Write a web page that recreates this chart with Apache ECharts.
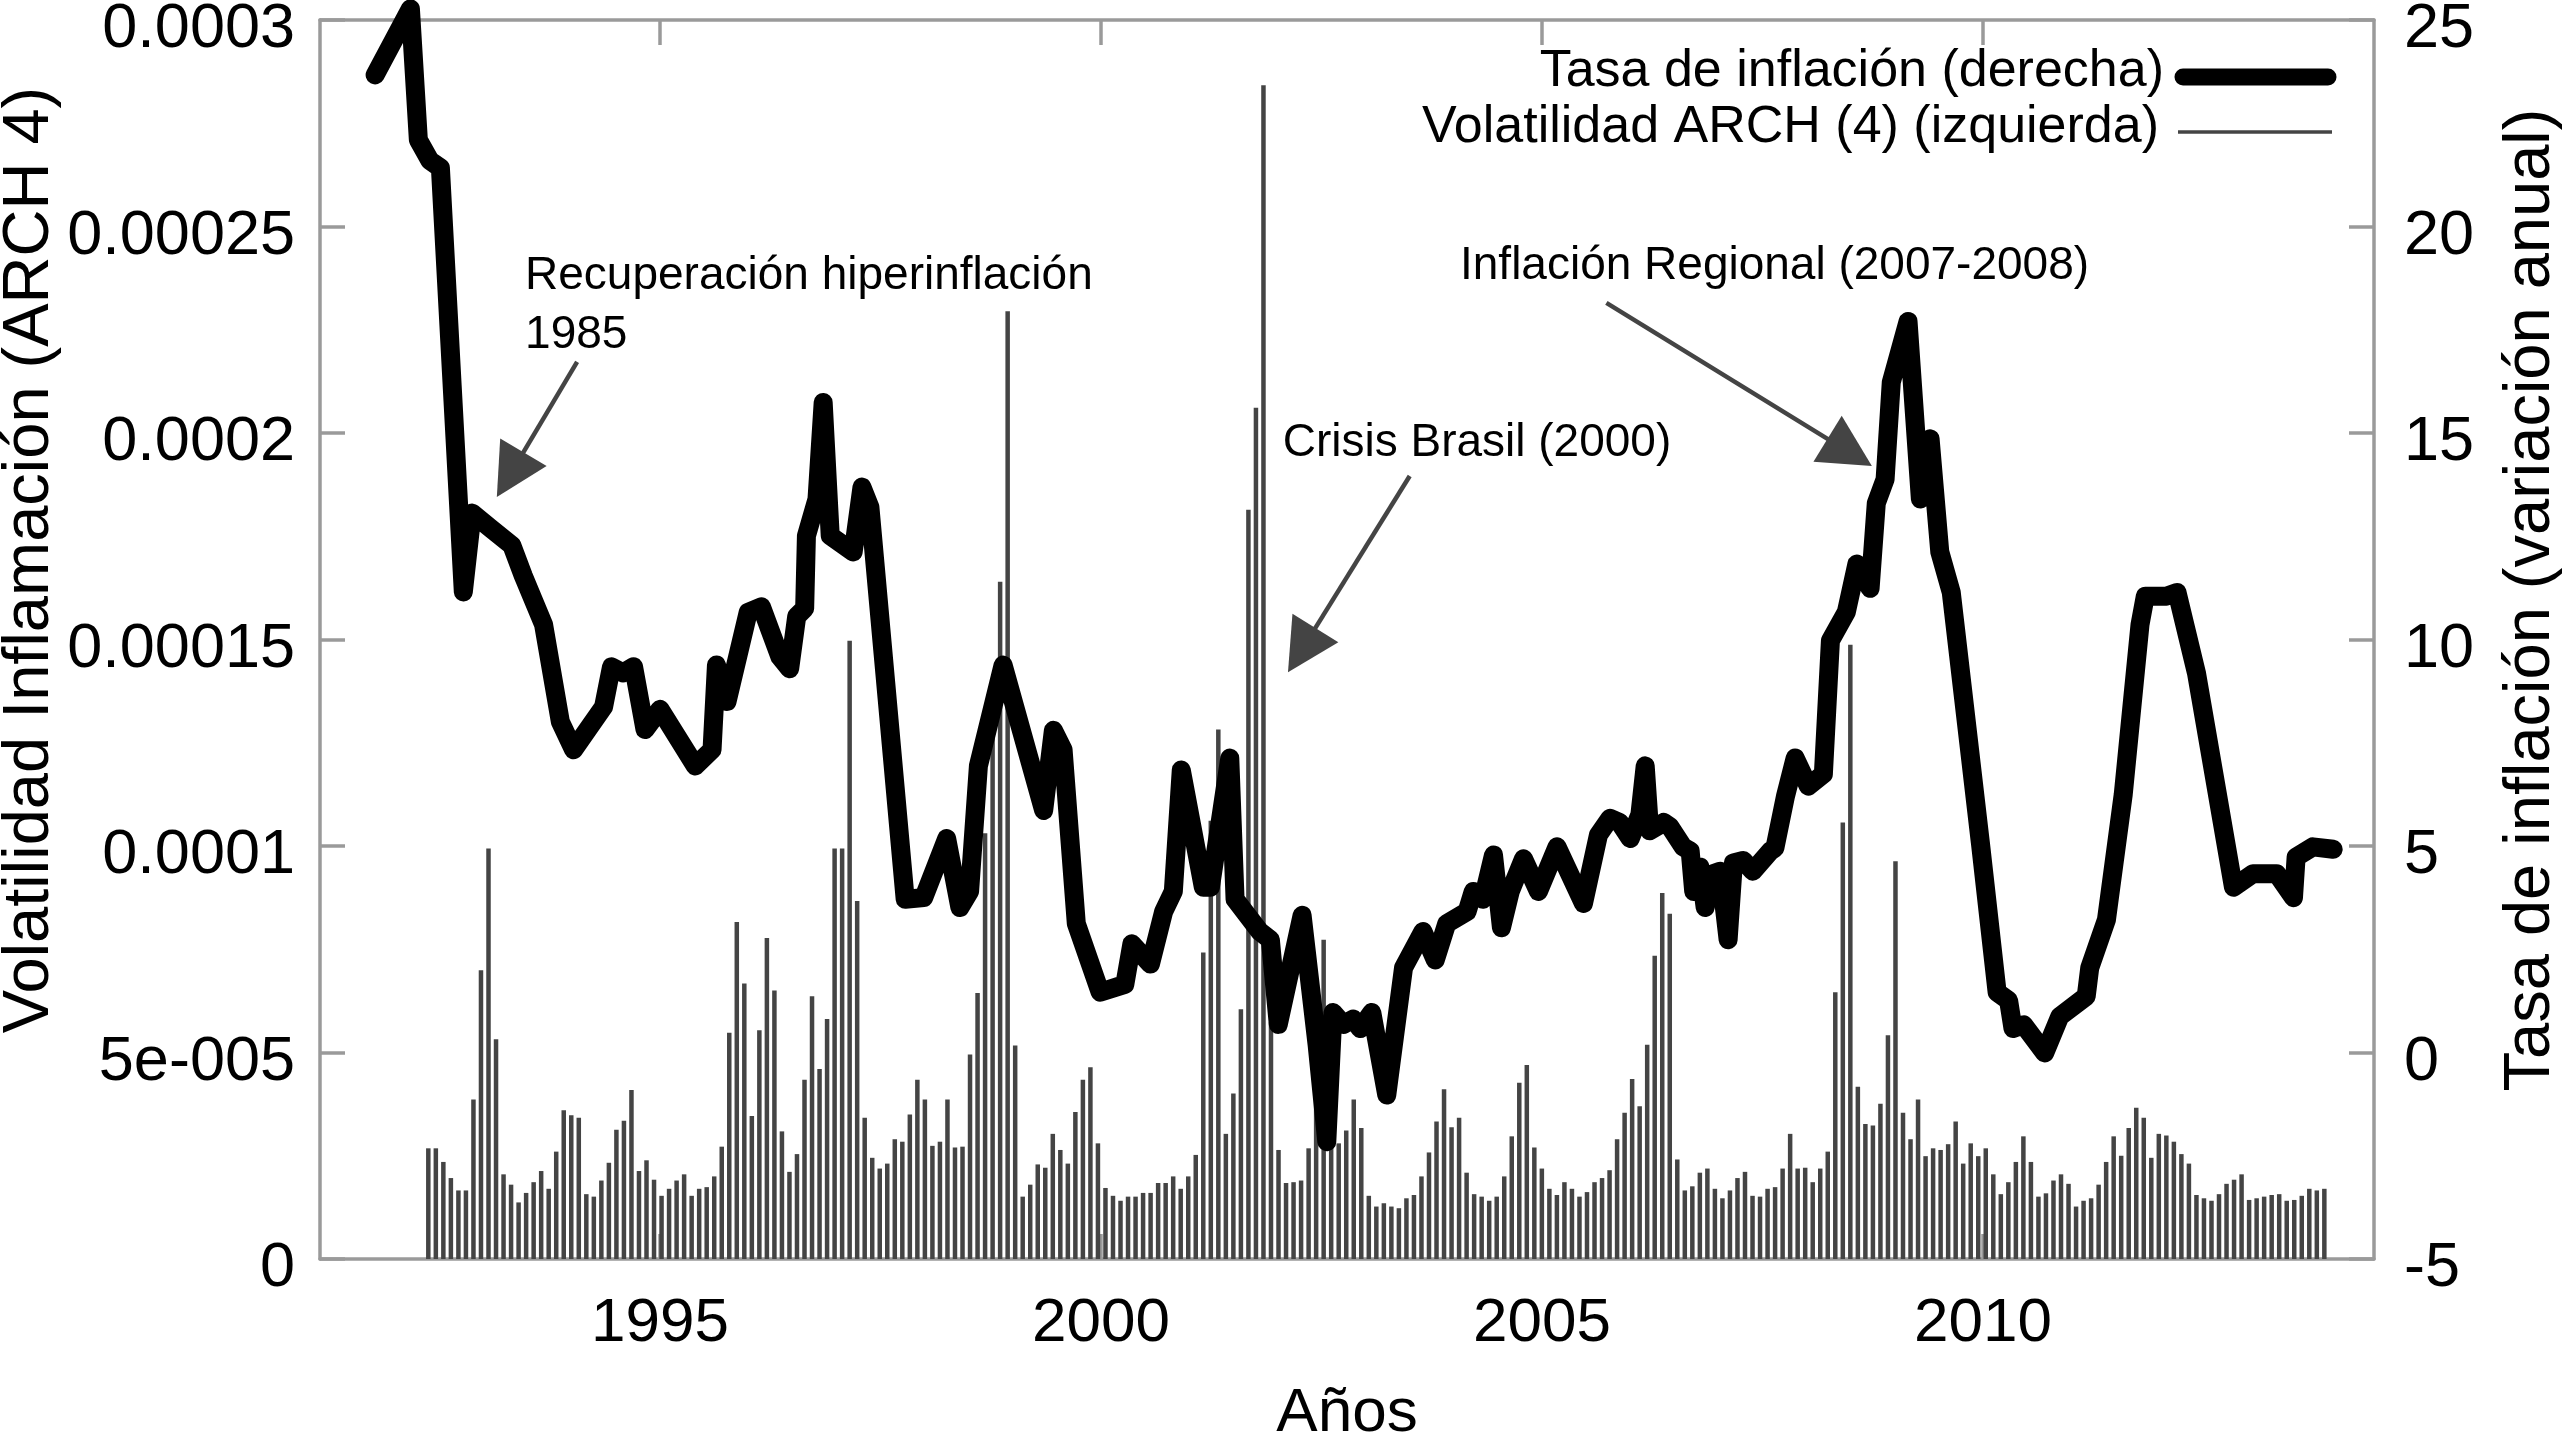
<!DOCTYPE html>
<html>
<head>
<meta charset="utf-8">
<script src="https://cdn.jsdelivr.net/npm/echarts@6/dist/echarts.min.js"></script>
<style>
html,body{margin:0;padding:0;background:#fff;}
#chart{width:2564px;height:1434px;}
</style>
</head>
<body>
<div id="chart"></div>
<script>
// ---- Data ----
// Inflation rate (right axis, % annual change): vertex years and values
const inflationYears = [
1991.77,1992.17,1992.26,1992.39,1992.51,1992.77,1992.87,1993.07,1993.32,1993.45,
1993.68,1993.87,1994.02,1994.36,1994.45,1994.58,1994.70,1994.83,1995.00,1995.40,
1995.59,1995.64,1995.76,1996.00,1996.15,1996.36,1996.47,1996.55,1996.64,1996.66,
1996.78,1996.85,1996.93,1997.19,1997.29,1997.38,1997.78,1997.99,1998.25,1998.40,
1998.51,1998.61,1998.89,1999.35,1999.46,1999.57,1999.72,1999.99,2000.27,2000.35,
2000.56,2000.71,2000.82,2000.91,2001.16,2001.24,2001.46,2001.52,2001.80,2001.92,
2002.01,2002.28,2002.45,2002.56,2002.63,2002.75,2002.86,2002.94,2003.07,2003.24,
2003.43,2003.60,2003.65,2003.79,2003.92,2004.15,2004.22,2004.33,2004.45,2004.54,
2004.64,2004.79,2004.96,2005.17,2005.47,2005.64,2005.77,2005.88,2006.00,2006.11,
2006.17,2006.22,2006.38,2006.45,2006.60,2006.68,2006.72,2006.79,2006.85,2006.90,
2007.02,2007.11,2007.17,2007.28,2007.39,2007.59,2007.64,2007.76,2007.87,2008.02,
2008.19,2008.27,2008.45,2008.57,2008.72,2008.79,2008.89,2008.96,2009.15,2009.29,
2009.40,2009.51,2009.64,2009.97,2010.16,2010.29,2010.34,2010.46,2010.70,2010.87,
2011.17,2011.21,2011.40,2011.59,2011.78,2011.84,2012.08,2012.20,2012.42,2012.84,
2013.06,2013.33,2013.52,2013.55,2013.74,2013.97
];
const inflationRate = [
23.67,25.27,22.10,21.60,21.42,11.15,13.06,12.71,12.28,11.54,
10.36,8.01,7.33,8.37,9.34,9.19,9.34,7.82,8.31,6.94,
7.33,9.38,8.50,10.66,10.79,9.58,9.29,10.56,10.75,12.51,
13.40,15.74,12.51,12.12,13.69,13.20,3.71,3.75,5.18,3.51,
3.90,6.94,9.38,5.86,7.80,7.33,3.12,1.46,1.65,2.63,
2.14,3.41,3.90,6.84,4.00,4.00,7.13,3.71,2.93,2.73,
0.68,3.32,0.19,-2.16,0.97,0.68,0.81,0.58,0.97,-1.03,
2.05,2.73,2.93,2.24,3.12,3.41,3.90,3.71,4.78,3.02,
3.90,4.69,3.90,4.98,3.61,5.27,5.67,5.57,5.18,5.76,
6.94,5.37,5.57,5.47,4.98,4.88,3.90,4.49,3.51,4.30,
4.39,2.73,4.59,4.65,4.39,4.88,4.95,6.20,7.13,6.45,
6.74,9.97,10.66,11.83,11.24,13.30,13.88,16.23,17.70,13.40,
14.86,12.12,11.14,5.08,1.46,1.26,0.58,0.67,-0.01,0.87,
1.36,2.05,3.22,6.25,10.36,11.05,11.05,11.14,9.19,4.00,
4.33,4.33,3.75,4.73,4.98,4.92
];

// ARCH(4) volatility (left axis), in units of 1e-5, one bar per period
const volatilityARCH_e5 = [
2.68,2.68,2.35,1.96,1.66,1.66,3.86,6.99,9.94,5.32,2.05,1.80,1.37,1.60,1.86,2.13,1.70,2.60,3.60,3.48,
3.42,1.57,1.51,1.90,2.33,3.13,3.35,4.09,2.13,2.39,1.92,1.53,1.70,1.90,2.05,1.53,1.70,
1.74,2.00,2.72,5.48,8.16,6.67,3.46,5.54,7.77,6.50,3.09,2.11,2.54,4.34,6.36,4.60,5.81,9.94,9.94,14.97,
8.67,3.42,2.45,2.19,2.31,2.90,2.84,3.50,4.34,3.86,2.74,2.84,3.86,2.70,2.72,4.95,6.44,10.31,13.41,16.40,
22.95,5.17,1.51,1.80,2.29,2.21,3.03,2.64,
2.31,3.56,4.34,4.64,2.80,1.72,1.53,1.41,1.51,1.51,1.60,1.60,1.84,1.84,2.00,1.70,2.00,2.52,7.42,10.61,
12.82,3.03,4.01,6.05,18.14,20.61,28.42,5.73,2.64,1.84,1.86,1.90,2.68,6.75,7.73,3.03,2.80,3.11,3.86,3.17,
1.53,1.27,1.35,1.27,1.23,1.47,1.55,2.00,
2.58,3.33,4.11,3.19,3.42,2.09,1.57,1.51,1.41,1.51,2.00,2.97,4.27,4.70,2.70,2.19,1.70,1.55,1.86,1.70,
1.51,1.62,1.86,1.96,2.15,2.90,3.54,4.36,3.70,5.19,7.34,8.86,8.36,2.41,1.66,1.76,2.09,2.19,1.70,1.47,
1.66,1.96,2.11,1.53,1.51,1.70,1.74,
2.19,3.03,2.19,2.21,1.86,2.19,2.60,6.46,10.57,14.87,4.17,3.27,3.23,3.76,5.42,9.63,3.54,2.90,3.86,2.49,
2.68,2.64,2.78,3.33,2.31,2.80,2.49,2.68,2.05,1.57,1.86,2.35,2.97,2.35,1.51,1.59,1.90,2.05,1.82,1.27,
1.41,1.47,1.80,2.35,2.97,2.50,3.17,3.66,
3.42,2.45,3.03,2.99,2.84,2.54,2.31,1.55,1.47,1.41,1.57,1.82,1.92,2.05,1.43,1.47,1.51,1.55,1.57,1.41,
1.43,1.53,1.70,1.66,1.70
];
const barFirstYear = 1992.373;   // position of the first bar on the time axis
const barLastYear = 2013.87;     // position of the last bar

const xTickYears = [1995, 2000, 2005, 2010];
const leftTickLabels = ['0', '5e-005', '0.0001', '0.00015', '0.0002', '0.00025', '0.0003'];
const rightTickLabels = ['-5', '0', '5', '10', '15', '20', '25'];

const seriesNames = ['Tasa de inflación (derecha)', 'Volatilidad ARCH (4) (izquierda)'];
const axisTitles = {
  left: 'Volatilidad Inflamación (ARCH 4)',
  right: 'Tasa de inflación (variación anual)',
  bottom: 'Años'
};
// annotations: text anchor and arrow (start -> tip) in (year, right-axis value)
const annotations = [
  { lines: ['Recuperación hiperinflación', '1985'], text: [1993.47, 18.80], from: [1994.06, 16.72], to: [1993.15, 13.45] },
  { lines: ['Crisis Brasil (2000)'], text: [2002.06, 14.76], from: [2003.50, 13.96], to: [2002.12, 9.21] },
  { lines: ['Inflación Regional (2007-2008)'], text: [2004.07, 19.04], from: [2005.73, 18.15], to: [2008.74, 14.20] }
];

// ---- Chart ----
const FONT = '"Liberation Sans", Arial, sans-serif';
const AXIS_GREY = '#9a9a9a';
const barStep = (barLastYear - barFirstYear) / (volatilityARCH_e5.length - 1);
const barData = volatilityARCH_e5.map((v, i) => [barFirstYear + i * barStep, v]);
const lineData = inflationYears.map((y, i) => [y, inflationRate[i]]);

const chart = echarts.init(document.getElementById('chart'), null, { renderer: 'canvas' });
const xCommon = {
  type: 'value', min: 1991.145, max: 2014.433,
  axisLine: { show: true, onZero: false, lineStyle: { color: AXIS_GREY, width: 3.5 } },
  splitLine: { show: false },
  axisTick: { show: true, inside: true, length: 25, customValues: xTickYears, lineStyle: { color: AXIS_GREY, width: 3.5 } }
};
const yLabelBase = { fontFamily: FONT, fontSize: 63, color: '#000', verticalAlign: 'top', lineHeight: 20 };
chart.setOption({
  animation: false,
  backgroundColor: '#ffffff',
  grid: { left: 320, right: 190, top: 20, bottom: 175, containLabel: false, outerBoundsMode: 'none' },
  xAxis: [
    Object.assign({}, xCommon, {
      position: 'bottom',
      name: axisTitles.bottom, nameLocation: 'middle', nameGap: 124,
      nameTextStyle: { fontFamily: FONT, fontSize: 62, color: '#000' },
      axisLabel: { show: true, customValues: xTickYears, margin: 34, fontFamily: FONT, fontSize: 62, color: '#000',
                   formatter: v => String(Math.round(v)) }
    }),
    Object.assign({}, xCommon, { position: 'top', axisLabel: { show: false } })
  ],
  yAxis: [
    {
      type: 'value', position: 'left', min: 0, max: 30, interval: 5,
      axisLine: { show: true, onZero: false, lineStyle: { color: AXIS_GREY, width: 3.5 } },
      axisTick: { show: true, inside: true, length: 25, lineStyle: { color: AXIS_GREY, width: 3.5 } },
      splitLine: { show: false },
      axisLabel: Object.assign({ margin: 25, formatter: v => leftTickLabels[Math.round(v / 5)] }, yLabelBase)
    },
    {
      type: 'value', position: 'right', min: -5, max: 25, interval: 5,
      axisLine: { show: true, onZero: false, lineStyle: { color: AXIS_GREY, width: 3.5 } },
      axisTick: { show: true, inside: true, length: 25, lineStyle: { color: AXIS_GREY, width: 3.5 } },
      splitLine: { show: false },
      axisLabel: Object.assign({ margin: 30, formatter: v => rightTickLabels[Math.round((v + 5) / 5)] }, yLabelBase)
    }
  ],
  series: [
    {
      name: seriesNames[1], type: 'bar', xAxisIndex: 0, yAxisIndex: 0,
      data: barData, barWidth: 4.5,
      itemStyle: { color: '#444444' }, z: 2
    },
    {
      name: seriesNames[0], type: 'line', xAxisIndex: 0, yAxisIndex: 1,
      data: lineData, symbol: 'none', showSymbol: false, clip: false,
      lineStyle: { color: '#000000', width: 19, join: 'round', cap: 'round' }, z: 3
    }
  ]
});

// ---- annotations, titles, legend (graphic layer) ----
function px(p) { return chart.convertToPixel({ xAxisIndex: 0, yAxisIndex: 1 }, p); }
const graphics = [];
const ARROW = '#444444';
annotations.forEach(a => {
  const t = px(a.text);
  a.lines.forEach((ln, k) => {
    graphics.push({ type: 'text', x: t[0], y: t[1] + k * 59, z: 10,
      style: { text: ln, x: 0, y: 0, font: '46px ' + FONT, fill: '#000', align: 'left', verticalAlign: 'middle',
               textAlign: 'left', textVerticalAlign: 'middle' } });
  });
  const s = px(a.from), e = px(a.to);
  const dx = e[0] - s[0], dy = e[1] - s[1], L = Math.hypot(dx, dy);
  const ux = dx / L, uy = dy / L, hl = 52, hw = 27;
  const bx = e[0] - ux * hl, by = e[1] - uy * hl;
  graphics.push({ type: 'line', z: 10, shape: { x1: s[0], y1: s[1], x2: bx + ux * 10, y2: by + uy * 10 },
    style: { stroke: ARROW, lineWidth: 4.5 } });
  graphics.push({ type: 'polygon', z: 10,
    shape: { points: [[e[0], e[1]], [bx - uy * hw, by + ux * hw], [bx + uy * hw, by - ux * hw]] },
    style: { fill: ARROW } });
});
// axis titles
graphics.push({ type: 'text', x: 30, y: 560, rotation: Math.PI / 2, z: 10,
  style: { text: axisTitles.left, x: 0, y: 0, font: '65px ' + FONT, fill: '#000', align: 'center', verticalAlign: 'middle',
           textAlign: 'center', textVerticalAlign: 'middle' } });
graphics.push({ type: 'text', x: 2531, y: 600, rotation: Math.PI / 2, z: 10,
  style: { text: axisTitles.right, x: 0, y: 0, font: '65px ' + FONT, fill: '#000', align: 'center', verticalAlign: 'middle',
           textAlign: 'center', textVerticalAlign: 'middle' } });
// legend
graphics.push({ type: 'text', x: 2164, y: 72, z: 10,
  style: { text: seriesNames[0], x: 0, y: 0, font: '52px ' + FONT, fill: '#000', align: 'right', verticalAlign: 'middle',
           textAlign: 'right', textVerticalAlign: 'middle' } });
graphics.push({ type: 'line', z: 10, shape: { x1: 2183, y1: 77, x2: 2328, y2: 77 },
  style: { stroke: '#000', lineWidth: 17, lineCap: 'round' } });
graphics.push({ type: 'text', x: 2159, y: 128, z: 10,
  style: { text: seriesNames[1], x: 0, y: 0, font: '52px ' + FONT, fill: '#000', align: 'right', verticalAlign: 'middle',
           textAlign: 'right', textVerticalAlign: 'middle' } });
graphics.push({ type: 'line', z: 10, shape: { x1: 2178, y1: 132, x2: 2332, y2: 132 },
  style: { stroke: '#444', lineWidth: 3.5 } });
chart.setOption({ graphic: graphics });
</script>
</body>
</html>
